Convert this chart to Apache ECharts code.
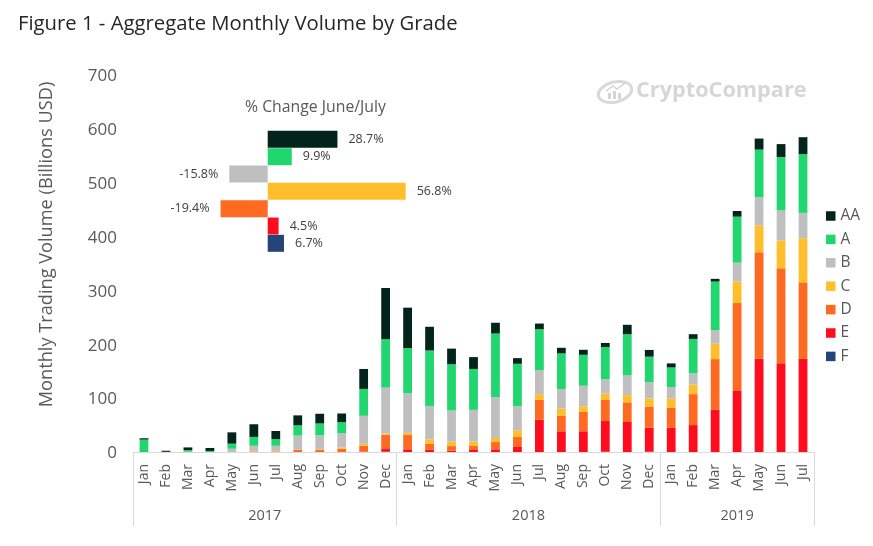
<!DOCTYPE html>
<html>
<head>
<meta charset="utf-8">
<script src="https://cdn.jsdelivr.net/npm/echarts@6/dist/echarts.min.js"></script>
<style>
  html, body { margin: 0; padding: 0; background: #fff; }
  #chart { width: 873px; height: 546px; }
</style>
</head>
<body>
<div id="chart"></div>
<script>
const months = ['Jan','Feb','Mar','Apr','May','Jun','Jul','Aug','Sep','Oct','Nov','Dec',
  'Jan','Feb','Mar','Apr','May','Jun','Jul','Aug','Sep','Oct','Nov','Dec',
  'Jan','Feb','Mar','Apr','May','Jun','Jul'];
const years = ['2017', '2018', '2019'];
const yearBreaks = [0, 12, 24, 31];

// Billions USD
const gradeF = [0,0,0,0,0,0,0,0,0,0,0,1, 0,0,0,0,0,0,0,0,0,0.5,0,0.5, 0,0,0,0,0,0,0];
const gradeE = [0,0,0,0,0,0,0,0,0,0,0.5,4.5, 5,4,2.5,3.7,5,9.3,60,38.5,38.5,57,55.7,44.5, 45,50,79,114.5,173,165,173];
const gradeD = [0,0,0,0,0,1,1,4,4,6,11,26.5, 26.5,11,8.5,7.5,13.5,18.5,37,28.5,36,39,36.5,39.5, 37,57.5,93.5,162,198,176,142];
const gradeC = [0,0,0,0,0,1,1,0.5,0.5,2.5,3.7,2.5, 4,8.5,8,8,7.5,12.5,10.5,13.5,10.5,12,13.5,15, 17.5,17.5,28.5,40,50,52,82];
const gradeB = [0,0,0.5,0,6,9.5,9.5,26,26.5,26.5,52,85, 73.5,62,58,59,76,45,44.5,36.5,38,26.5,36.5,30.5, 21,21,25.5,35,52,55.7,47];
const gradeA = [23,0.3,3,2,9.5,16.5,12.5,19,22,20.5,50,90, 84,103,86,76,118,78.5,76,66,57.5,60,76.5,47, 36.5,64,90,85.5,88.5,99,109];
const gradeAA = [2.5,2,5,5.5,21,23.5,15,18.5,18,16,37,95, 75,44,29,22,20,10.5,10.5,10.5,9.3,7.5,17.5,12.5, 7.5,8.7,5,10.5,20.5,24,31.5];

const grades = ['AA', 'A', 'B', 'C', 'D', 'E', 'F'];
const gradeColors = ['#03241a', '#21d66f', '#bfbfbf', '#ffbf2d', '#ff6a22', '#ff0d1f', '#264478'];
const gradeValues = [gradeAA, gradeA, gradeB, gradeC, gradeD, gradeE, gradeF];
const juneJulyChange = [28.7, 9.9, -15.8, 56.8, -19.4, 4.5, 6.7];

const textColor = '#595959';
const fontFamily = '"Open Sans", "Noto Sans", sans-serif';

// stack from the bottom up: F first, AA on top
const stackSeries = grades.map((name, i) => ({
  name,
  type: 'bar',
  stack: 'volume',
  barWidth: '40%',
  itemStyle: { color: gradeColors[i] },
  data: gradeValues[i]
})).reverse();

const changeSeries = {
  type: 'bar',
  xAxisIndex: 2,
  yAxisIndex: 1,
  barCategoryGap: '2%',
  data: juneJulyChange.map((v, i) => ({
    value: v,
    itemStyle: { color: gradeColors[i] },
    label: { position: v < 0 ? 'left' : 'right' }
  })),
  label: {
    show: true,
    distance: 11,
    fontSize: 12.5,
    fontFamily,
    color: '#404040',
    padding: [4, 0, 0, 0],
    formatter: p => p.value.toFixed(1) + '%'
  }
};

const option = {
  animation: false,
  backgroundColor: '#fff',
  textStyle: { fontFamily },
  title: [
    { text: 'Figure 1 - Aggregate Monthly Volume by Grade', left: 13, top: 9,
      textStyle: { fontSize: 20.3, fontWeight: 'normal', color: '#262626', fontFamily } },
    { text: '% Change June/July', left: 240, top: 94,
      textStyle: { fontSize: 15.8, fontWeight: 'normal', color: textColor, fontFamily } }
  ],
  legend: {
    data: grades,
    orient: 'vertical',
    left: 821,
    top: 203,
    itemWidth: 9.5,
    itemHeight: 9.5,
    itemGap: 7.4,
    icon: 'rect',
    textStyle: { fontSize: 15.5, color: textColor, fontFamily }
  },
  grid: [
    { left: 133, right: 59, top: 75, bottom: 94 },
    { left: 194.8, top: 130.7, width: 218.7, height: 121.3 }
  ],
  xAxis: [
    {
      type: 'category',
      data: months,
      axisLine: { lineStyle: { color: '#d9d9d9' } },
      axisTick: { show: false },
      axisLabel: { interval: 0, rotate: 90, margin: 12, fontSize: 14, color: textColor, fontFamily }
    },
    {
      type: 'value',
      position: 'bottom',
      min: yearBreaks[0],
      max: yearBreaks[3],
      axisLine: { show: false },
      splitLine: { show: false },
      axisTick: { show: true, customValues: yearBreaks, length: 74, lineStyle: { color: '#d9d9d9' } },
      axisLabel: {
        customValues: years.map((y, i) => (yearBreaks[i] + yearBreaks[i + 1]) / 2),
        margin: 56,
        fontSize: 14.5,
        color: textColor,
        fontFamily,
        formatter: v => years[yearBreaks.findIndex(b => b > v) - 1]
      }
    },
    { gridIndex: 1, type: 'value', min: -30, max: 60, show: false }
  ],
  yAxis: [
    {
      type: 'value',
      min: 0,
      max: 700,
      interval: 100,
      splitLine: { show: false },
      axisLine: { show: false },
      axisTick: { show: false },
      axisLabel: {
        margin: 16,
        formatter: v => `{tick|${v}}`,
        rich: { tick: { fontSize: 17, color: textColor, fontFamily, padding: [3, 0, 0, 0] } }
      },
      name: 'Monthly Trading Volume (Billions USD)',
      nameLocation: 'middle',
      nameGap: 77,
      nameTextStyle: { fontSize: 18.2, color: textColor, fontFamily, padding: [0, 0, 0, 38] }
    },
    { gridIndex: 1, type: 'category', data: grades, inverse: true, show: false }
  ],
  series: [...stackSeries, changeSeries],
  graphic: [
    {
      type: 'group',
      silent: true,
      children: [
        { type: 'ellipse', x: 615, y: 92, rotation: 0.25,
          shape: { cx: 0, cy: 0, rx: 17, ry: 10 },
          style: { fill: 'none', stroke: '#d9d9d9', lineWidth: 3 } },
        { type: 'rect', shape: { x: 608, y: 93, width: 3, height: 6 }, style: { fill: '#d4d4d4' } },
        { type: 'rect', shape: { x: 613, y: 91, width: 3, height: 8 }, style: { fill: '#d4d4d4' } },
        { type: 'rect', shape: { x: 618, y: 93, width: 3, height: 6 }, style: { fill: '#d4d4d4' } },
        { type: 'polyline', shape: { points: [[606, 91], [613, 86], [617, 89], [625, 83]] },
          style: { fill: 'none', stroke: '#d4d4d4', lineWidth: 1.5 } },
        { type: 'text', x: 636, y: 80,
          style: { text: 'CryptoCompare', fill: '#d6d6d6', fontSize: 21.7, fontWeight: 'bold', fontFamily } }
      ]
    }
  ]
};

const chart = echarts.init(document.getElementById('chart'));
chart.setOption(option);
</script>
</body>
</html>
